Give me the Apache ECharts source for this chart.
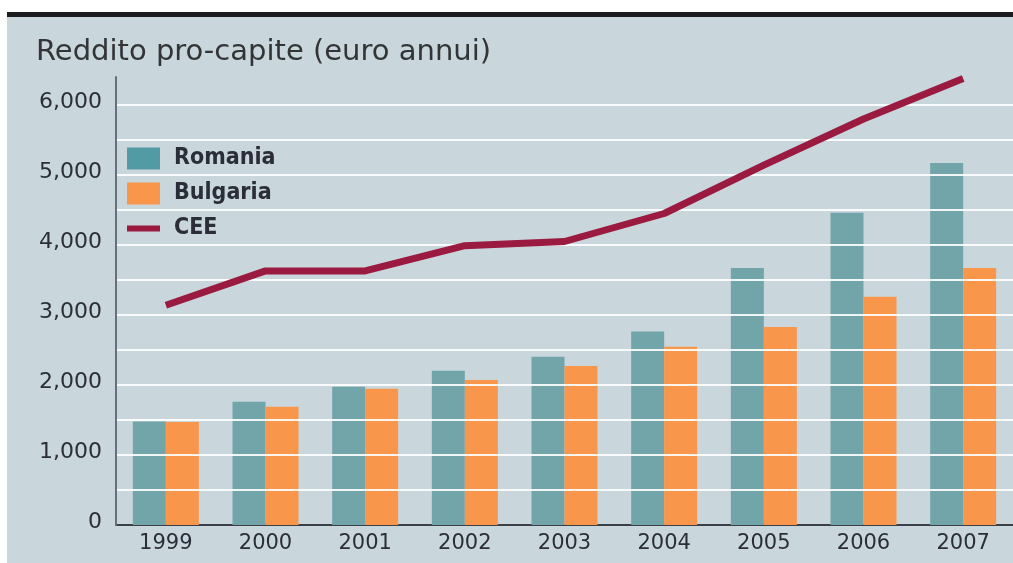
<!DOCTYPE html>
<html>
<head>
<meta charset="utf-8">
<script src="https://cdn.jsdelivr.net/npm/echarts@6/dist/echarts.min.js"></script>
<style>
  html, body { margin: 0; padding: 0; background: #ffffff; }
  #chart { width: 1013px; height: 563px; }
</style>
</head>
<body>
<div id="chart"></div>
<script>
// Per-capita income, euro per year
const years = ['1999', '2000', '2001', '2002', '2003', '2004', '2005', '2006', '2007'];
const romania = [1480, 1760, 1975, 2205, 2405, 2765, 3670, 4460, 5170];
const bulgaria = [1470, 1690, 1945, 2070, 2270, 2545, 2830, 3260, 3670];
const cee = [3140, 3630, 3630, 3990, 4050, 4450, 5140, 5800, 6380];
const titleText = 'Reddito pro-capite (euro annui)';
const seriesNames = ['Romania', 'Bulgaria', 'CEE'];

const colors = {
  panel: '#c9d7dd',
  romania: '#72a5aa',
  romaniaKey: '#529ba4',
  bulgaria: '#f8964c',
  cee: '#9a1a40',
  text: '#2b2e38'
};

const chart = echarts.init(document.getElementById('chart'), null, { renderer: 'canvas' });

chart.setOption({
  backgroundColor: '#ffffff',
  animation: false,
  graphic: [
    { type: 'rect', z: -10, shape: { x: 7, y: 17, width: 1006, height: 546 }, style: { fill: colors.panel } },
    { type: 'rect', z: -9, shape: { x: 7, y: 12, width: 1006, height: 5 }, style: { fill: '#1d1d1f' } }
  ],
  title: {
    text: titleText,
    left: 31,
    top: 33,
    textStyle: {
      fontFamily: 'DejaVu Sans',
      fontSize: 29,
      fontWeight: 'normal',
      color: '#333436'
    }
  },
  legend: {
    orient: 'vertical',
    left: 122,
    top: 142,
    itemWidth: 33,
    itemHeight: 22,
    itemGap: 12,
    textStyle: {
      fontFamily: 'DejaVu Sans Condensed',
      fontWeight: 'bold',
      fontSize: 23,
      color: colors.text,
      padding: [0, 0, 0, 9]
    },
    data: [
      { name: seriesNames[0], icon: 'rect', itemStyle: { color: colors.romaniaKey } },
      { name: seriesNames[1], icon: 'rect', itemStyle: { color: colors.bulgaria } },
      { name: seriesNames[2], icon: 'path://M0,8L33,8L33,14L0,14Z M0,0L0,0 M0,22L0,22', itemStyle: { color: colors.cee } }
    ]
  },
  grid: {
    left: 116,
    top: 77,
    width: 900,
    bottom: 38,
    containLabel: false
  },
  xAxis: {
    type: 'category',
    data: years,
    boundaryGap: true,
    axisLine: { lineStyle: { color: '#3b3f47', width: 2 } },
    axisTick: { show: false },
    axisLabel: {
      fontFamily: 'DejaVu Sans',
      fontSize: 21,
      color: colors.text,
      margin: 8
    }
  },
  yAxis: {
    type: 'value',
    min: 0,
    max: 6400,
    interval: 500,
    z: 3,
    axisLine: { show: true, lineStyle: { color: '#67707a', width: 2 } },
    axisTick: { show: false },
    axisLabel: {
      fontFamily: 'DejaVu Sans',
      fontSize: 22,
      color: colors.text,
      margin: 14,
      verticalAlign: 'bottom',
      lineHeight: 6,
      formatter: function (v) {
        if (v % 1000 !== 0) return '';
        return v.toLocaleString('en-US');
      }
    },
    splitLine: {
      show: true,
      showMinLine: false,
      showMaxLine: false,
      lineStyle: { color: 'rgba(255,255,255,0.9)', width: 2 }
    }
  },
  series: [
    {
      name: seriesNames[0],
      type: 'bar',
      data: romania,
      barWidth: 33,
      barGap: '0%',
      z: 2,
      itemStyle: { color: colors.romania }
    },
    {
      name: seriesNames[1],
      type: 'bar',
      data: bulgaria,
      barWidth: 33,
      barGap: '0%',
      z: 2,
      itemStyle: { color: colors.bulgaria }
    },
    {
      name: seriesNames[2],
      type: 'line',
      data: cee,
      symbol: 'none',
      z: 5,
      clip: false,
      lineStyle: { color: colors.cee, width: 7, join: 'round' },
      itemStyle: { color: colors.cee }
    }
  ]
});
</script>
</body>
</html>
